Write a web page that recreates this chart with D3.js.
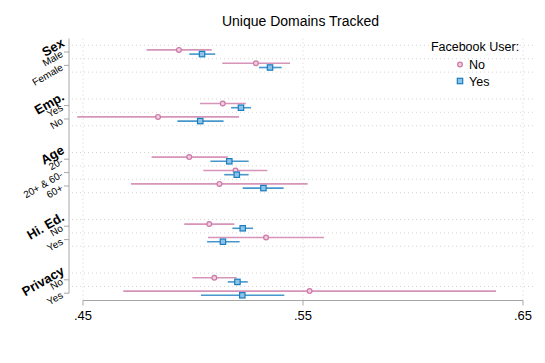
<!DOCTYPE html>
<html>
<head>
<meta charset="utf-8">
<script src="https://cdn.jsdelivr.net/npm/d3@7"></script>
<style>
  body { margin: 0; background: #fff; }
  text { font-family: "Liberation Sans", Arial, sans-serif; fill: #000; }
</style>
</head>
<body>
<div id="chart"></div>
<script>
// groups and their levels, top to bottom
const groupNames = ["Sex", "Emp.", "Age", "Hi. Ed.", "Privacy"]
const groupLevels = [["Male", "Female"], ["Yes", "No"], ["20-", "20+ & 60-", "60+"], ["No", "Yes"], ["No", "Yes"]]

// Facebook user: No (one value per level, same order)
const noEst = [0.4936, 0.5286, 0.5135, 0.4841, 0.4983, 0.5193, 0.5120, 0.5074, 0.5332, 0.5097, 0.5530]
const noLo  = [0.4789, 0.5133, 0.5032, 0.4474, 0.4812, 0.5047, 0.4718, 0.4960, 0.5068, 0.4997, 0.4683]
const noHi  = [0.5085, 0.5441, 0.5240, 0.5209, 0.5158, 0.5338, 0.5521, 0.5188, 0.5595, 0.5199, 0.6377]

// Facebook user: Yes
const yesEst = [0.5041, 0.5350, 0.5218, 0.5033, 0.5165, 0.5199, 0.5320, 0.5226, 0.5136, 0.5202, 0.5224]
const yesLo  = [0.4983, 0.5300, 0.5173, 0.4929, 0.5079, 0.5142, 0.5226, 0.5179, 0.5064, 0.5158, 0.5036]
const yesHi  = [0.5101, 0.5403, 0.5264, 0.5139, 0.5253, 0.5253, 0.5412, 0.5273, 0.5212, 0.5249, 0.5415]

const xTicks = [0.45, 0.55, 0.65]
const xTickLabels = [".45", ".55", ".65"]

const pink = "#cc79a7", blue = "#1a7dbf"

const width = 545, height = 363

const svg = d3.select("#chart").append("svg")
  .attr("width", width)
  .attr("height", height)

// lay rows out: each group gets a heading slot, plus one empty slot before it
let rows = [], heads = [], slot = 0
groupNames.forEach((g, gi) => {
  if (gi > 0) slot += 2
  heads.push({ name: g, pos: slot - 1 })
  groupLevels[gi].forEach(l => {
    rows.push({ label: l, pos: slot })
    slot++
  })
})
rows.forEach((r, i) => {
  r.no = { est: noEst[i], lo: noLo[i], hi: noHi[i] }
  r.yes = { est: yesEst[i], lo: yesLo[i], hi: yesHi[i] }
})

const x = d3.scaleLinear().domain([0.45, 0.65]).range([83, 523])
const y = d3.scaleLinear().domain([0, 18]).range([52, 293.2])
const step = y(1) - y(0)
const off = 2.1
const axisLeft = 69, gridRight = 533, axisY = 300.5

// grid: dotted lines at row boundaries and at x ticks
const grid = svg.append("g")
  .attr("stroke", "#d4d4d4")
  .attr("stroke-width", 1)
  .attr("stroke-dasharray", "1,3")

let gridYs = []
rows.forEach(r => { gridYs.push(y(r.pos) - step / 2) })
rows.forEach((r, i) => {
  let next = rows[i + 1]
  if (!next || next.pos != r.pos + 1) gridYs.push(y(r.pos) + step / 2)
})
grid.selectAll("line.h")
  .data(gridYs.filter(v => v < axisY - 1))
  .join("line")
    .attr("x1", axisLeft + 3).attr("x2", gridRight)
    .attr("y1", d => d).attr("y2", d => d)

grid.selectAll("line.v")
  .data(xTicks)
  .join("line")
    .attr("x1", d => x(d)).attr("x2", d => x(d))
    .attr("y1", y(-1)).attr("y2", axisY)

// y axis
const axisColor = "#a6a6a6"
svg.append("line")
  .attr("x1", axisLeft).attr("x2", axisLeft)
  .attr("y1", y(-1)).attr("y2", y(rows[rows.length - 1].pos))
  .attr("stroke", axisColor)

svg.append("g").selectAll("line")
  .data(rows)
  .join("line")
    .attr("x1", axisLeft - 5).attr("x2", axisLeft)
    .attr("y1", d => y(d.pos)).attr("y2", d => y(d.pos))
    .attr("stroke", axisColor)

svg.append("g").selectAll("text")
  .data(rows)
  .join("text")
    .attr("transform", d => `translate(${axisLeft - 7},${y(d.pos) + 1}) rotate(-30)`)
    .attr("text-anchor", "end")
    .attr("dominant-baseline", "central")
    .style("font-size", "10px")
    .text(d => d.label)

svg.append("g").selectAll("text")
  .data(heads)
  .join("text")
    .attr("transform", d => `translate(${axisLeft - 6},${y(d.pos) + 3}) rotate(-30)`)
    .attr("text-anchor", "end")
    .attr("dominant-baseline", "central")
    .style("font-size", "13px")
    .style("font-weight", "bold")
    .text(d => d.name)

// x axis
svg.append("line")
  .attr("x1", x(0.45)).attr("x2", x(0.65))
  .attr("y1", axisY).attr("y2", axisY)
  .attr("stroke", axisColor)

svg.append("g").selectAll("line")
  .data(xTicks)
  .join("line")
    .attr("x1", d => x(d)).attr("x2", d => x(d))
    .attr("y1", axisY).attr("y2", axisY + 5)
    .attr("stroke", axisColor)

svg.append("g").selectAll("text")
  .data(xTicks)
  .join("text")
    .attr("x", d => x(d))
    .attr("y", 319.5)
    .attr("text-anchor", "middle")
    .style("font-size", "13px")
    .text((d, i) => xTickLabels[i])

// CI lines
const ci = svg.append("g").attr("stroke-width", 1.6).attr("stroke-opacity", 0.8)
ci.selectAll("line.no")
  .data(rows)
  .join("line")
    .attr("x1", d => x(d.no.lo)).attr("x2", d => x(d.no.hi))
    .attr("y1", d => y(d.pos) - off).attr("y2", d => y(d.pos) - off)
    .attr("stroke", pink)
ci.selectAll("line.yes")
  .data(rows)
  .join("line")
    .attr("class", "yes")
    .attr("x1", d => x(d.yes.lo)).attr("x2", d => x(d.yes.hi))
    .attr("y1", d => y(d.pos) + off).attr("y2", d => y(d.pos) + off)
    .attr("stroke", blue)

// markers
svg.append("g").selectAll("circle")
  .data(rows)
  .join("circle")
    .attr("cx", d => x(d.no.est))
    .attr("cy", d => y(d.pos) - off)
    .attr("r", 2.4)
    .attr("fill", "#f0cde0")
    .attr("stroke", pink)
    .attr("stroke-width", 1.2)

svg.append("g").selectAll("rect")
  .data(rows)
  .join("rect")
    .attr("x", d => x(d.yes.est) - 2.7)
    .attr("y", d => y(d.pos) + off - 2.7)
    .attr("width", 5.4).attr("height", 5.4)
    .attr("fill", "#8cc3e6")
    .attr("stroke", blue)
    .attr("stroke-width", 1.2)

// title
svg.append("text")
  .attr("x", 300.5).attr("y", 26)
  .attr("text-anchor", "middle")
  .style("font-size", "14px")
  .text("Unique Domains Tracked")

// legend
const lg = svg.append("g")
lg.append("text")
  .attr("x", 475).attr("y", 51)
  .attr("text-anchor", "middle")
  .style("font-size", "12.5px")
  .text("Facebook User:")
lg.append("circle")
  .attr("cx", 460).attr("cy", 64.5).attr("r", 2.4)
  .attr("fill", "#f0cde0").attr("stroke", pink).attr("stroke-width", 1.2)
lg.append("text")
  .attr("x", 469).attr("y", 69)
  .style("font-size", "12.5px")
  .text("No")
lg.append("rect")
  .attr("x", 457.3).attr("y", 78.3).attr("width", 5.4).attr("height", 5.4)
  .attr("fill", "#8cc3e6").attr("stroke", blue).attr("stroke-width", 1.2)
lg.append("text")
  .attr("x", 469).attr("y", 85.5)
  .style("font-size", "12.5px")
  .text("Yes")
</script>
</body>
</html>
